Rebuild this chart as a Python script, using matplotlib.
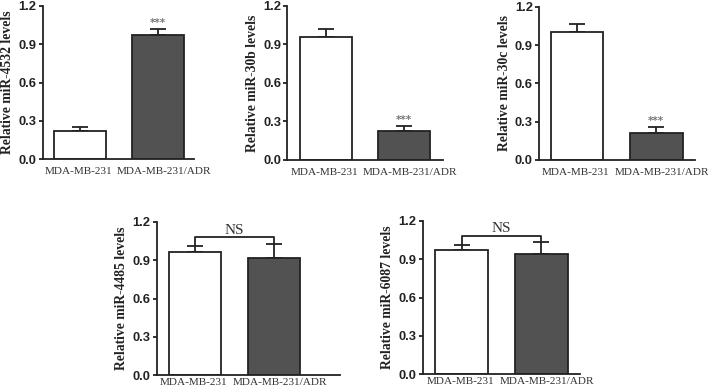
import matplotlib
matplotlib.use("Agg")
import matplotlib.pyplot as plt

groups = ["MDA-MB-231", "MDA-MB-231/ADR"]
mirnas = ["miR-4532", "miR-30b", "miR-30c", "miR-4485", "miR-6087"]
means = {
    "miR-4532": [0.22, 0.97],
    "miR-30b": [0.96, 0.225],
    "miR-30c": [1.0, 0.21],
    "miR-4485": [0.965, 0.915],
    "miR-6087": [0.975, 0.94],
}
errs = {
    "miR-4532": [0.03, 0.05],
    "miR-30b": [0.06, 0.04],
    "miR-30c": [0.065, 0.05],
    "miR-4485": [0.045, 0.115],
    "miR-6087": [0.033, 0.095],
}
sig = {
    "miR-4532": [None, "***"],
    "miR-30b": [None, "***"],
    "miR-30c": [None, "***"],
    "miR-4485": "NS",
    "miR-6087": "NS",
}
yticks = [0.0, 0.3, 0.6, 0.9, 1.2]
ytick_labels = ["0.0", "0.3", "0.6", "0.9", "1.2"]

W, H = 708, 392
fig = plt.figure(figsize=(W / 100, H / 100), dpi=100)

# pixel boxes: left, right, top, bottom ; xlim ; label offset (pt)
boxes = {
    "miR-4532": (42.7, 194, 5.7, 159.3, (-0.48, 1.46), -5.5),
    "miR-30b": (287.3, 443, 5.7, 160, (-0.496, 1.5), -5.5),
    "miR-30c": (539, 695, 6.7, 160, (-0.48, 1.49), -5.5),
    "miR-4485": (156.7, 340, 222, 375, (-0.485, 1.835), -2.3),
    "miR-6087": (422.7, 580, 220.7, 374.3, (-0.49, 1.49), -2.3),
}
colors = ["white", "#525252"]
lw = 1.3

for m in mirnas:
    l, r, t, b, xl, dy = boxes[m]
    ax = fig.add_axes([l / W, 1 - b / H, (r - l) / W, (b - t) / H])
    x = [0, 1]
    ax.bar(x, means[m], width=0.667, color=colors, edgecolor="#222222",
           linewidth=lw, zorder=2)
    ax.errorbar(x, means[m], yerr=[[0, 0], errs[m]], fmt="none",
                ecolor="#222222", elinewidth=lw, capsize=6, capthick=lw,
                zorder=1)
    ax.set_xlim(*xl)
    ax.set_ylim(0, 1.2)
    ax.set_yticks(yticks)
    ax.set_yticklabels(ytick_labels, fontfamily="Liberation Sans",
                       fontweight="bold", fontsize=9.3, color="#222222")
    ax.set_xticks(x)
    ax.set_xticklabels([])
    for xi, g, dx in zip(x, groups, [-1.0, 4.0]):
        ax.annotate(g, xy=(xi, 0), xycoords=("data", "axes fraction"),
                    xytext=(dx, dy), textcoords="offset points",
                    ha="center", va="top", fontfamily="Liberation Serif",
                    fontsize=8.1, color="#333333", annotation_clip=False)
    ax.tick_params(axis="x", length=0)
    ax.tick_params(axis="y", length=3, width=lw, pad=1.5, color="#222222")
    for s in ["top", "right"]:
        ax.spines[s].set_visible(False)
    for s in ["left", "bottom"]:
        ax.spines[s].set_linewidth(lw)
        ax.spines[s].set_color("#222222")
    ax.set_ylabel("Relative " + m + " levels", fontfamily="Liberation Serif",
                  fontweight="bold", fontsize=9.8, color="#222222",
                  labelpad=3)
    s = sig[m]
    if s == "NS":
        tops = [means[m][i] + errs[m][i] for i in range(2)]
        yb = 1.08
        ax.plot([0, 0, 1, 1], [tops[0], yb, yb, tops[1]], color="#222222",
                lw=lw, clip_on=False)
        ax.text(0.5, yb + 0.005, "NS", ha="center", va="bottom",
                fontfamily="Liberation Serif", fontsize=11, color="#333333")
    else:
        for i in range(2):
            if s[i]:
                ax.text(i, means[m][i] + errs[m][i] + 0.005, s[i],
                        ha="center", va="bottom", fontsize=7.5,
                        color="#777777", fontweight="bold")

fig.savefig("out.png", dpi=100)
